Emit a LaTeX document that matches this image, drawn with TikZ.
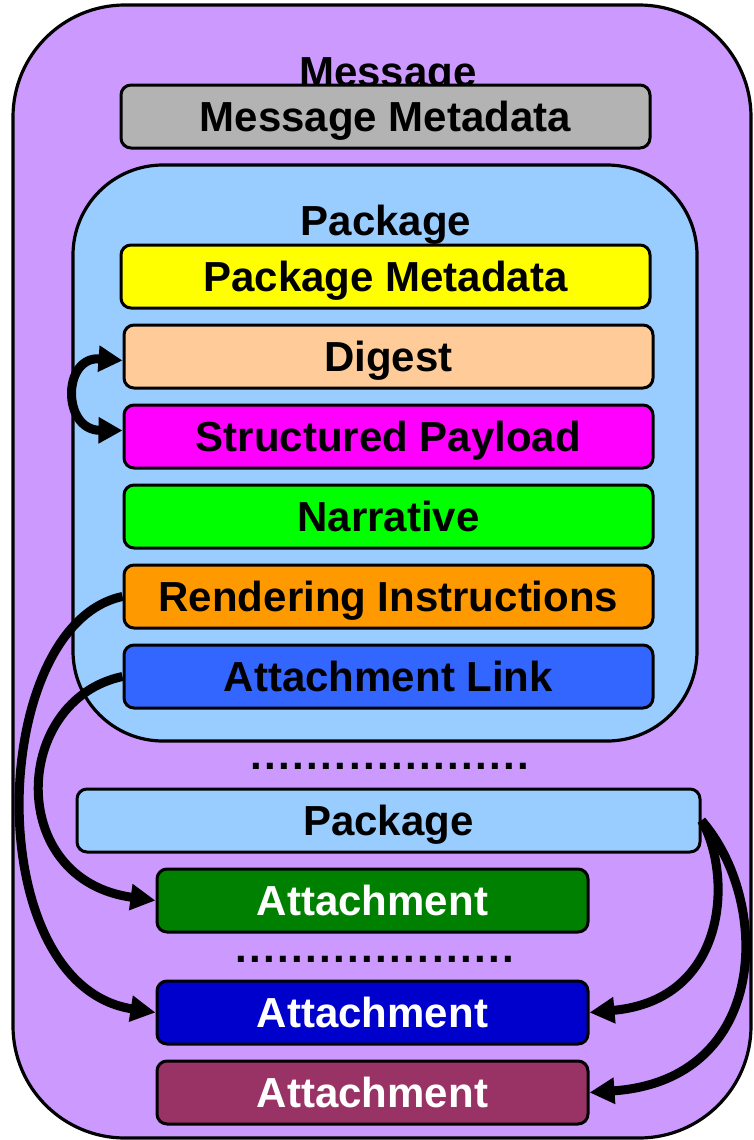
\documentclass[tikz,border=0pt]{standalone}
\usepackage{fontspec}
\setmainfont{Liberation Sans}
\usetikzlibrary{arrows.meta}

\definecolor{msgpurple}{HTML}{CC99FF}
\definecolor{pkgblue}{HTML}{99CCFF}
\definecolor{metagray}{HTML}{B3B3B3}
\definecolor{pmetayellow}{HTML}{FFFF00}
\definecolor{digestpeach}{HTML}{FFCC99}
\definecolor{payloadmagenta}{HTML}{FF00FF}
\definecolor{narrgreen}{HTML}{00FF00}
\definecolor{rendorange}{HTML}{FF9900}
\definecolor{linkblue}{HTML}{3366FF}
\definecolor{attgreen}{HTML}{008000}
\definecolor{attblue}{HTML}{0000CC}
\definecolor{attmaroon}{HTML}{993366}

\tikzset{
  bigfont/.style={font=\fontsize{42}{48}\selectfont\bfseries},
  layer/.style={draw=black, line width=3pt, rounded corners=10pt,
    minimum height=63pt, inner sep=0pt, text height=30pt, text depth=0pt,
    bigfont},
  wide/.style={layer, minimum width=529pt},
  attbox/.style={layer, minimum width=431pt, text=white},
  title/.style={bigfont, inner sep=0pt, anchor=base},
  dotrow/.style={font=\fontsize{42}{48}\selectfont\bfseries\addfontfeature{LetterSpace=5.7},
    inner sep=0pt, anchor=base},
  container/.style={draw=black, line width=3.2pt},
  link/.style={line width=9pt, draw=black,
    -{Triangle[length=25pt,width=25pt]}},
  dlink/.style={line width=9pt, draw=black,
    {Triangle[length=24pt,width=25pt]}-{Triangle[length=24pt,width=25pt]}},
}

\begin{document}
\begin{tikzpicture}[x=1pt,y=-1pt]
\useasboundingbox (0,0) rectangle (753,1140);

% outer message container
\draw[container, fill=msgpurple, rounded corners=112pt]
  (13,5) rectangle (751,1138);
\node[title] (msgtitle) at (388,86) {Message};
\node[wide, fill=metagray] (meta) at (385.5,116.5) {Message Metadata};

% first package
\draw[container, fill=pkgblue, rounded corners=90pt]
  (73,165) rectangle (697,741);
\node[title] (pkgtitle) at (386,235) {Package};
\node[wide, fill=pmetayellow] (pmeta) at (385.5,276.5) {Package Metadata};
\node[wide, fill=digestpeach] (digest) at (388.5,356.5) {Digest};
\node[wide, fill=payloadmagenta] (payload) at (388.5,436.5) {Structured Payload};
\node[wide, fill=narrgreen] (narr) at (388.5,516.5) {Narrative};
\node[wide, fill=rendorange] (rend) at (388.5,596.5) {Rendering Instructions};
\node[wide, fill=linkblue] (alink) at (388.5,676.5) {Attachment Link};

% further packages and attachments
\node[dotrow] (dots1) at (390,769) {....................};
\node[layer, fill=pkgblue, minimum width=623pt] (pkg2) at (388.5,820.5) {Package};
\node[attbox, fill=attgreen] (att1) at (372.5,900.5) {Attachment};
\node[dotrow] (dots2) at (374.5,962) {....................};
\node[attbox, fill=attblue] (att2) at (372.5,1012.5) {Attachment};
\node[attbox, fill=attmaroon] (att3) at (372.5,1092.5) {Attachment};

% references between parts
\draw[dlink] ([yshift=-4pt]digest.west) .. controls (62,356) and (62,430)
  .. ([yshift=6pt]payload.west);
\draw[link] (rend.west) .. controls (-12,625) and (-22,985) .. (att2.west);
\draw[link] (alink.west) .. controls (12,700) and (5,880) .. (att1.west);
\draw[link] (pkg2.east) .. controls (733,875) and (728,1000) .. (att2.east);
\draw[link] (pkg2.east) .. controls (771,900) and (771,1080) .. (att3.east);
\end{tikzpicture}
\end{document}
